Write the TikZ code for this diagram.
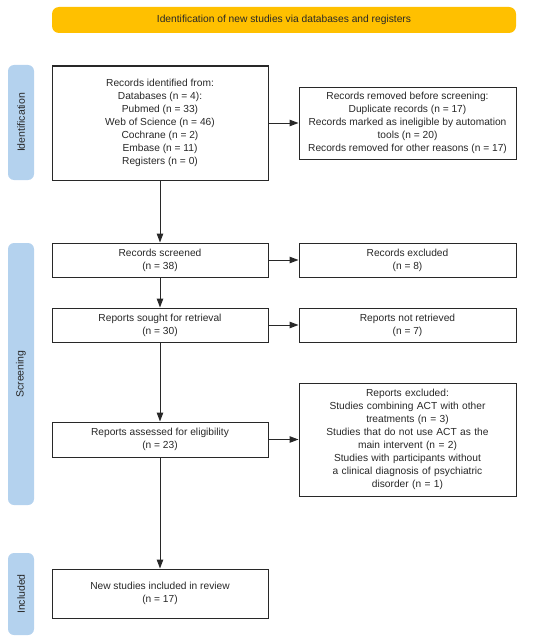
\documentclass[tikz,border=0pt]{standalone}
\usepackage{fontspec}
\setmainfont{Liberation Sans}
\usetikzlibrary{arrows.meta}
\definecolor{banner}{RGB}{255,192,0}
\definecolor{side}{RGB}{180,210,238}
\definecolor{ink}{RGB}{40,40,40}
\tikzset{
  box/.style={draw=ink, line width=1pt, fill=white, align=center, inner sep=2pt,
    font=\fontsize{10.2}{13.1}\selectfont, text=ink},
  sidebar/.style={fill=side, rounded corners=6pt, draw=none},
  sidetext/.style={rotate=90, font=\fontsize{10.5}{12}\selectfont, text=ink},
  arr/.style={-{Triangle[length=9pt,width=6.5pt]}, line width=1pt, draw=ink},
}
\begin{document}
\begin{tikzpicture}[x=1pt,y=-1pt]
\useasboundingbox (0,0) rectangle (550,642);
% banner
\node[fill=banner, rounded corners=7pt, minimum width=464pt, minimum height=26pt,
  font=\fontsize{10.25}{12}\selectfont, text=ink] (ban) at (284,20) {Identification of new studies via databases and registers};
% side labels
\node[sidebar, minimum width=26pt, minimum height=115pt] (sid) at (21,122.5) {};
\node[sidetext] at (sid.center) {Identification};
\node[sidebar, minimum width=26pt, minimum height=262pt] (sscr) at (21,374) {};
\node[sidetext] at (sscr.center) {Screening};
\node[sidebar, minimum width=26pt, minimum height=82pt] (sinc) at (21,594) {};
\node[sidetext] at (sinc.center) {Included};
% boxes
\node[box, minimum width=216pt, minimum height=114pt] (ident) at (160,123)
  {Records identified from:\\Databases (n = 4):\\Pubmed (n = 33)\\Web of Science (n = 46)\\Cochrane (n = 2)\\Embase (n = 11)\\Registers (n = 0)};
\node[box, minimum width=217pt, minimum height=72pt] (removed) at (407.5,123)
  {Records removed before screening:\\Duplicate records (n = 17)\\Records marked as ineligible by automation\\tools (n = 20)\\Records removed for other reasons (n = 17)};
\node[box, minimum width=216pt, minimum height=34pt] (screened) at (160,260)
  {Records screened\\(n = 38)};
\node[box, minimum width=217pt, minimum height=34pt] (excl) at (407.5,260)
  {Records excluded\\(n = 8)};
\node[box, minimum width=216pt, minimum height=34pt] (sought) at (160,325)
  {Reports sought for retrieval\\(n = 30)};
\node[box, minimum width=217pt, minimum height=34pt] (notret) at (407.5,325)
  {Reports not retrieved\\(n = 7)};
\node[box, minimum width=216pt, minimum height=35pt] (assessed) at (160,439.5)
  {Reports assessed for eligibility\\(n = 23)};
\node[box, minimum width=217pt, minimum height=113pt, text width=205pt] (repexcl) at (407.5,439.5)
  {Reports excluded:\\Studies combining ACT with other\\treatments (n = 3)\\Studies that do not use ACT as the\\main intervent (n = 2)\\Studies with participants without\\a clinical diagnosis of psychiatric\\disorder (n = 1)};
\node[box, minimum width=216pt, minimum height=49pt] (incl) at (160,593.5)
  {New studies included in review\\(n = 17)};
% arrows
\draw[arr] (ident) -- (removed);
\draw[arr] (ident) -- (screened);
\draw[arr] (screened) -- (excl);
\draw[arr] (screened) -- (sought);
\draw[arr] (sought) -- (notret);
\draw[arr] (sought) -- (assessed);
\draw[arr] (assessed) -- (repexcl.west |- assessed);
\draw[arr] (assessed) -- (incl);
\end{tikzpicture}
\end{document}
